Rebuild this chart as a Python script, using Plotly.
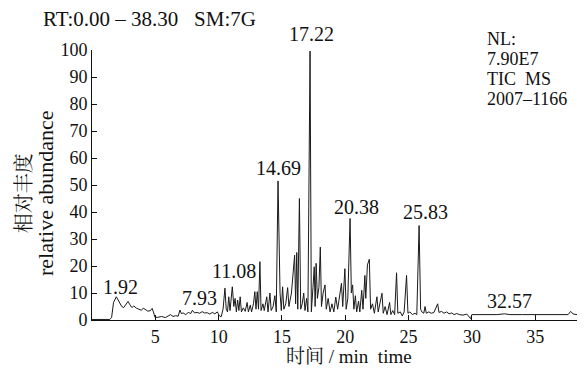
import plotly.graph_objects as go

# retention time (min) and relative abundance (%)
time_min = [0.0, 1.4, 1.55, 1.7, 1.92, 2.05, 2.2, 2.35, 2.5, 2.65, 2.85, 3.0, 3.15, 3.3, 3.5, 3.7, 3.9,
            4.05, 4.2, 4.4, 4.6, 4.75, 4.85, 4.97, 5.2, 5.5, 5.8, 6.0, 6.2, 6.4, 6.6, 6.8, 6.95, 7.05,
            7.2, 7.4, 7.6, 7.8, 7.93, 8.1, 8.3, 8.5, 8.7, 8.9, 9.1, 9.3, 9.5, 9.7, 9.9, 10.05, 10.2,
            10.35, 10.5, 10.6, 10.7, 10.8, 10.9, 11.08, 11.2, 11.3, 11.4, 11.5, 11.6, 11.7, 11.8,
            11.95, 12.1, 12.25, 12.35, 12.5, 12.6, 12.75, 12.86, 12.95, 13.05, 13.15, 13.26, 13.35,
            13.5, 13.6, 13.8, 13.9, 14.05, 14.15, 14.3, 14.44, 14.55, 14.69, 14.78, 14.85, 14.95,
            15.05, 15.15, 15.3, 15.45, 15.55, 15.75, 15.9, 16.0, 16.08, 16.17, 16.25, 16.38, 16.48,
            16.6, 16.72, 16.82, 16.95, 17.05, 17.22, 17.32, 17.45, 17.55, 17.62, 17.7, 17.8, 17.92,
            18.03, 18.12, 18.25, 18.4, 18.5, 18.65, 18.8, 18.95, 19.1, 19.25, 19.4, 19.55, 19.7,
            19.8, 19.97, 20.07, 20.2, 20.38, 20.48, 20.58, 20.68, 20.8, 20.9, 21.05, 21.15, 21.3,
            21.4, 21.55, 21.62, 21.75, 21.9, 22.0, 22.15, 22.3, 22.5, 22.6, 22.75, 22.9, 23.0,
            23.15, 23.3, 23.5, 23.6, 23.75, 23.9, 24.05, 24.15, 24.35, 24.5, 24.65, 24.84, 24.95,
            25.1, 25.3, 25.5, 25.65, 25.83, 25.95, 26.05, 26.2, 26.3, 26.4, 26.6, 26.8, 27.0, 27.3,
            27.4, 27.6, 27.8, 28.0, 28.2, 28.4, 28.6, 28.8, 29.0, 29.3, 29.6, 29.8, 29.9, 30.0,
            31.0, 32.0, 32.57, 33.0, 34.0, 35.0, 36.0, 37.0, 37.6, 37.8, 38.0, 38.3]
abundance = [0.2, 0.2, 1.0, 6.5, 8.6, 7.5, 6.6, 5.0, 4.6, 5.8, 6.9, 5.6, 4.6, 5.2, 4.4, 4.0, 3.6,
             4.4, 4.0, 3.3, 3.4, 4.3, 3.0, 1.0, 1.0, 1.3, 0.9, 1.6, 2.0, 1.3, 1.6, 1.4, 3.7, 2.4,
             2.6, 2.0, 2.8, 2.4, 3.6, 2.6, 2.8, 2.5, 3.1, 2.6, 2.7, 2.2, 2.8, 2.3, 3.0, 1.6, 1.2,
             4.0, 11.8, 4.0, 3.0, 8.6, 3.5, 12.3, 5.0, 8.0, 3.0, 7.4, 3.5, 8.6, 3.0,
             4.5, 3.2, 6.5, 3.0, 5.5, 3.0, 6.0, 10.5, 4.0, 10.5, 4.0, 21.6, 3.5,
             6.0, 3.5, 8.6, 3.0, 10.0, 3.5, 5.0, 9.0, 3.0, 51.5, 23.0, 10.0, 3.5,
             12.3, 4.0, 6.0, 12.0, 5.0, 10.0, 18.5, 24.0, 6.0, 25.0, 4.0, 45.0, 4.0,
             6.0, 10.0, 3.5, 8.0, 3.0, 99.6, 3.0, 12.0, 19.7, 5.0, 21.0, 8.0, 12.0,
             27.0, 5.0, 10.0, 13.0, 4.0, 8.0, 3.0, 6.0, 3.0, 8.5, 4.0, 10.0, 13.6,
             5.0, 19.0, 4.0, 8.0, 37.6, 10.0, 13.0, 4.0, 9.0, 3.0, 7.0, 3.0, 11.0,
             4.0, 16.5, 8.0, 20.4, 22.5, 4.0, 6.0, 2.5, 8.6, 3.0, 6.0, 9.9, 2.5,
             5.0, 2.0, 6.5, 2.0, 3.5, 2.0, 17.5, 2.5, 3.0, 1.5, 3.0, 16.5, 2.5,
             3.0, 2.0, 2.5, 2.0, 35.0, 4.0, 3.0, 2.5, 5.0, 2.5, 3.0, 2.5, 2.8, 6.0,
             2.8, 3.2, 2.5, 3.0, 2.3, 2.6, 2.0, 2.4, 2.0, 1.8, 2.2, 1.0, 0.5, 2.0,
             2.0, 2.0, 2.3, 2.0, 2.0, 2.0, 2.0, 2.0, 2.0, 3.2, 2.2, 2.0]

# peak labels: text, label x (min), label bottom (%)
peak_text = ["1.92", "7.93", "11.08", "14.69", "17.22", "20.38", "25.83", "32.57"]
peak_x = [2.25, 8.45, 11.2, 14.7, 17.3, 20.9, 26.3, 33.0]
peak_y = [9.0, 5.0, 15.0, 53.0, 99.0, 38.5, 36.5, 3.7]

x_ticks = [5, 10, 15, 20, 25, 30, 35]
y_ticks = [0, 10, 20, 30, 40, 50, 60, 70, 80, 90, 100]

header = "RT:0.00 – 38.30\u00a0\u00a0\u00a0SM:7G"
info_lines = ["NL:", "7.90E7", "TIC\u00a0\u00a0MS", "2007–1166"]
y_title = ["相对丰度", "relative abundance"]
x_title_cn = "时间"
x_title_en = " / min\u00a0\u00a0time"

FONT = "Liberation Serif"
CJK = "Noto Serif CJK SC"
INK = "#111"

fig = go.Figure()
fig.add_trace(go.Scatter(x=time_min, y=abundance, mode="lines",
                         line=dict(color="#1a1a1a", width=1), hoverinfo="skip",
                         showlegend=False))

ann = []
for t, x, y in zip(peak_text, peak_x, peak_y):
    ann.append(dict(x=x, y=y, xref="x", yref="y", text=t, showarrow=False,
                    xanchor="center", yanchor="bottom",
                    yshift=6 if t == "17.22" else -4,
                    font=dict(family=FONT, size=20, color=INK)))

ann.append(dict(x=-0.106, y=1.0, xref="paper", yref="paper", yshift=31, text=header,
                showarrow=False, xanchor="left", yanchor="middle",
                font=dict(family=FONT, size=21, color=INK)))
for i, line in enumerate(info_lines):
    ann.append(dict(x=0.81, y=1.0, xref="paper", yref="paper", yshift=11 - 20 * i,
                    text=line, showarrow=False, xanchor="left", yanchor="middle",
                    font=dict(family=FONT, size=18, color=INK)))
ann.append(dict(x=-0.144, y=0.47, xref="paper", yref="paper", text=y_title[0],
                textangle=-90, showarrow=False, xanchor="center", yanchor="middle",
                font=dict(family=CJK, size=20, color=INK)))
ann.append(dict(x=-0.097, y=0.47, xref="paper", yref="paper", text=y_title[1],
                textangle=-90, showarrow=False, xanchor="center", yanchor="middle",
                font=dict(family=FONT, size=22, color=INK)))
ann.append(dict(x=0.53, y=-0.128, xref="paper", yref="paper",
                text='<span style="font-family:Noto Serif CJK SC">' + x_title_cn + '</span>' + x_title_en,
                showarrow=False, xanchor="center", yanchor="middle",
                font=dict(family=FONT, size=19, color=INK)))

# page body adds an 8px offset, so the figure is 8px smaller than the window
fig.update_layout(
    width=579, height=361,
    margin=dict(l=84, r=10, t=42, b=49),
    paper_bgcolor="white", plot_bgcolor="white",
    annotations=ann,
    xaxis=dict(range=[0, 38.3], tickvals=x_ticks, ticks="inside", ticklen=5,
               tickcolor=INK, showline=True, linecolor=INK, linewidth=1,
               showgrid=False, zeroline=False,
               tickfont=dict(family=FONT, size=18, color=INK)),
    yaxis=dict(range=[0, 100], tickvals=y_ticks, ticks="inside", ticklen=5,
               tickcolor=INK, showline=True, linecolor=INK, linewidth=1,
               showgrid=False, zeroline=False,
               tickfont=dict(family=FONT, size=18, color=INK)),
)

fig.write_html("out.html")
